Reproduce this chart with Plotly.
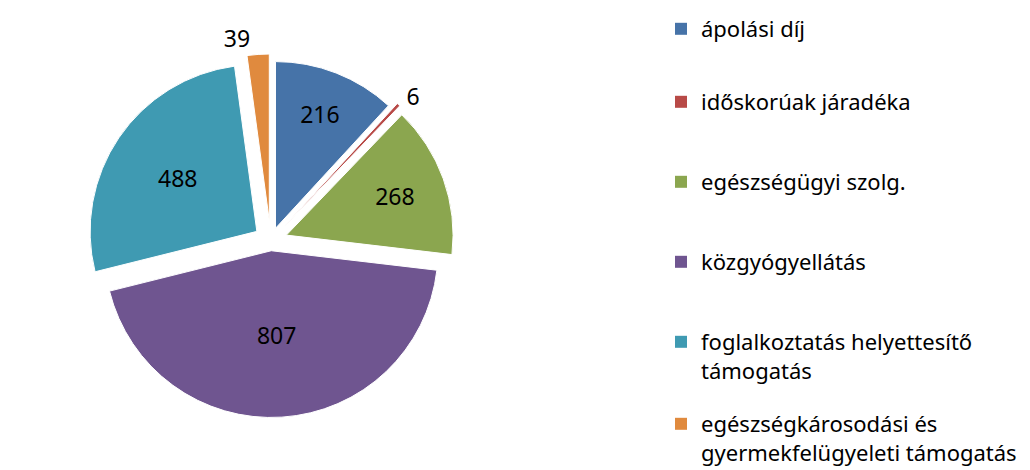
import plotly.graph_objects as go

categories = [
    "ápolási díj",
    "időskorúak járadéka",
    "egészségügyi szolg.",
    "közgyógyellátás",
    "foglalkoztatás helyettesítő<br>támogatás",
    "egészségkárosodási és<br>gyermekfelügyeleti támogatás",
]
values = [216, 6, 268, 807, 488, 39]
colors = ["#4673A8", "#B84A47", "#8BA64F", "#6F5590", "#3F9AB2", "#E08A3E"]
text_pos = ["inside", "outside", "inside", "inside", "inside", "outside"]
legend_tops_px = [-7, 73, 153, 233, 313, 395]

W, H = 1030, 470
font_family = "Noto Sans, Open Sans, sans-serif"

fig = go.Figure()
fig.add_trace(go.Pie(
    labels=categories,
    values=values,
    sort=False,
    direction="clockwise",
    rotation=0,
    pull=[0.08, 0.12, 0.1, 0.06, 0.1, 0.12],
    marker=dict(colors=colors, line=dict(color="white", width=1)),
    textinfo="value",
    textposition=text_pos,
    insidetextorientation="horizontal",
    textfont=dict(family=font_family, size=23, color="black"),
    outsidetextfont=dict(family=font_family, size=23, color="black"),
    domain=dict(x=[0.0, 0.51], y=[0.09, 0.92]),
    showlegend=False,
    hoverinfo="label+value",
))

layout_legends = {}
for i, (cat, col, top) in enumerate(zip(categories, colors, legend_tops_px)):
    key = "legend" if i == 0 else f"legend{i+1}"
    fig.add_trace(go.Scatter(
        x=[None], y=[None], mode="markers",
        marker=dict(symbol="square", size=12, color=col),
        name=cat, legend=key, showlegend=True,
    ))
    layout_legends[key] = dict(
        xref="container", yref="container",
        x=653 / W, y=1 - top / H, xanchor="left", yanchor="top",
        valign="top", bgcolor="rgba(0,0,0,0)",
        font=dict(family=font_family, size=22, color="black"),
        itemwidth=30,
    )

fig.update_layout(
    width=W, height=H,
    margin=dict(l=0, r=0, t=10, b=10, autoexpand=False),
    paper_bgcolor="white", plot_bgcolor="white",
    xaxis=dict(visible=False), yaxis=dict(visible=False),
    **layout_legends,
)

fig.write_html("out.html")
